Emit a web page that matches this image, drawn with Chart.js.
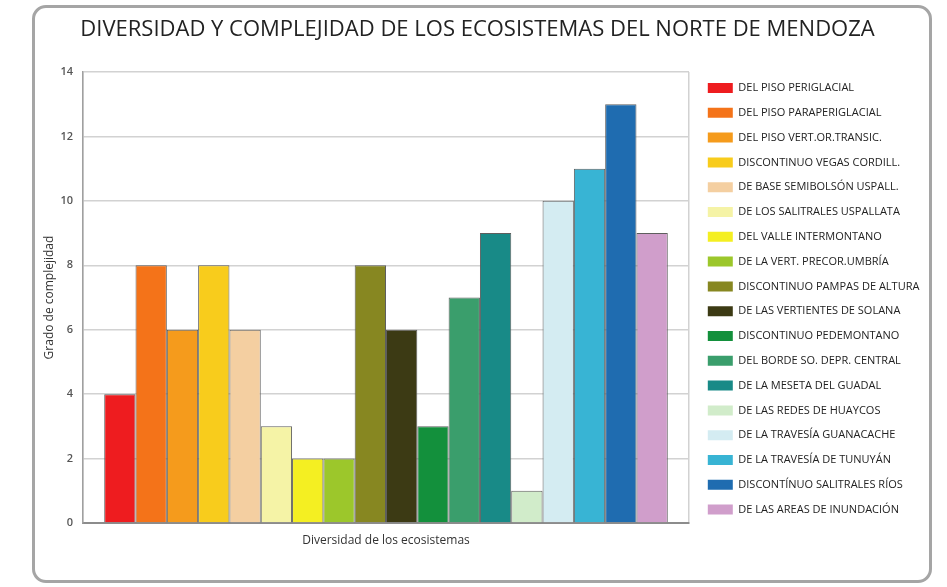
<!DOCTYPE html>
<html>
<head>
<meta charset="utf-8">
<script src="https://cdn.jsdelivr.net/npm/chart.js@4/dist/chart.umd.min.js"></script>
<style>
  html, body { margin: 0; padding: 0; background: #fff; overflow: hidden; }
  #marco {
    position: absolute; left: 32px; top: 5px; width: 900px; height: 578px;
    box-sizing: border-box; border: 3px solid #a5a5a5; border-radius: 14px;
  }
  #grafico { position: absolute; left: 34px; top: 8px; }
</style>
</head>
<body>
<div id="marco"></div>
<canvas id="grafico" width="896" height="573"></canvas>
<script>
  // Datos
  const categorias = ['Diversidad de los ecosistemas'];
  const ecosistemas = [
    'DEL PISO PERIGLACIAL',
    'DEL PISO PARAPERIGLACIAL',
    'DEL PISO VERT.OR.TRANSIC.',
    'DISCONTINUO VEGAS CORDILL.',
    'DE BASE SEMIBOLSÓN USPALL.',
    'DE LOS SALITRALES USPALLATA',
    'DEL VALLE INTERMONTANO',
    'DE LA VERT. PRECOR.UMBRÍA',
    'DISCONTINUO PAMPAS DE ALTURA',
    'DE LAS VERTIENTES DE SOLANA',
    'DISCONTINUO PEDEMONTANO',
    'DEL BORDE SO. DEPR. CENTRAL',
    'DE LA MESETA DEL GUADAL',
    'DE LAS REDES DE HUAYCOS',
    'DE LA TRAVESÍA GUANACACHE',
    'DE LA TRAVESÍA DE TUNUYÁN',
    'DISCONTÍNUO SALITRALES RÍOS',
    'DE LAS AREAS DE INUNDACIÓN'
  ];
  const grado = [4, 8, 6, 8, 6, 3, 2, 2, 8, 6, 3, 7, 9, 1, 10, 11, 13, 9];
  const yMin = 0, yMax = 14, yPaso = 2;

  const colores = [
    '#ee1c1f', '#f47319', '#f59b1c', '#f8cc1c', '#f4cfa1', '#f5f3a6',
    '#f4ef22', '#9cc72b', '#878721', '#3c3a14', '#13903c', '#3a9e6c',
    '#188a87', '#d1ecca', '#d4ecf2', '#38b4d4', '#1f6cb0', '#d09ecb'
  ];

  const fuente = 'Open Sans';

  const datasets = ecosistemas.map((nombre, i) => ({
    label: nombre,
    data: [grado[i]],
    backgroundColor: colores[i],
    borderColor: '#5e5e5e',
    borderWidth: 1,
    barPercentage: 1,
    categoryPercentage: 0.93
  }));

  new Chart(document.getElementById('grafico'), {
    type: 'bar',
    data: { labels: categorias, datasets: datasets },
    options: {
      responsive: false,
      animation: false,
      layout: { padding: { left: 0, right: 9, top: 0, bottom: 32.8 } },
      scales: {
        x: {
          grid: { color: '#d2d2d2', lineWidth: 1.5, drawTicks: false },
          border: { color: '#8c8c8c', width: 2 },
          ticks: { display: false },
          title: {
            display: true,
            text: categorias[0],
            font: { family: fuente, size: 12 },
            color: '#333',
            padding: { top: 10.8, bottom: 0 }
          }
        },
        y: {
          min: yMin,
          max: yMax,
          ticks: {
            stepSize: yPaso,
            padding: 10,
            font: { family: fuente, size: 11, weight: '600' },
            color: '#555'
          },
          grid: { color: '#d2d2d2', lineWidth: 1.5, drawTicks: false },
          border: { color: '#a0a0a0', width: 1.5 },
          title: {
            display: true,
            text: 'Grado de complejidad',
            font: { family: fuente, size: 12 },
            color: '#333',
            padding: { top: 8, bottom: 0 }
          },
          afterFit: function(scale) { scale.width = 49; }
        },
        y2: {
          position: 'right',
          grid: { display: false, drawTicks: false },
          border: { display: false },
          ticks: { display: false },
          afterFit: function(scale) { scale.width = 5; }
        }
      },
      plugins: {
        title: {
          display: true,
          text: 'DIVERSIDAD Y COMPLEJIDAD DE LOS ECOSISTEMAS DEL NORTE DE MENDOZA',
          font: { family: fuente, size: 22, weight: 'normal' },
          color: '#222',
          padding: { top: 8.3, bottom: 29.3 }
        },
        legend: {
          position: 'right',
          align: 'start',
          maxWidth: 227,
          title: { display: true, text: ' ', font: { size: 10 }, padding: { top: 48.7, bottom: 0 } },
          labels: {
            boxWidth: 25,
            boxHeight: 10,
            padding: 13.8,
            color: '#222',
            font: { family: fuente, size: 11 },
            generateLabels: function(chart) {
              const items = Chart.defaults.plugins.legend.labels.generateLabels(chart);
              items.forEach(item => { item.lineWidth = 0; });
              return items;
            }
          }
        },
        tooltip: { enabled: true }
      }
    }
  });
</script>
</body>
</html>
